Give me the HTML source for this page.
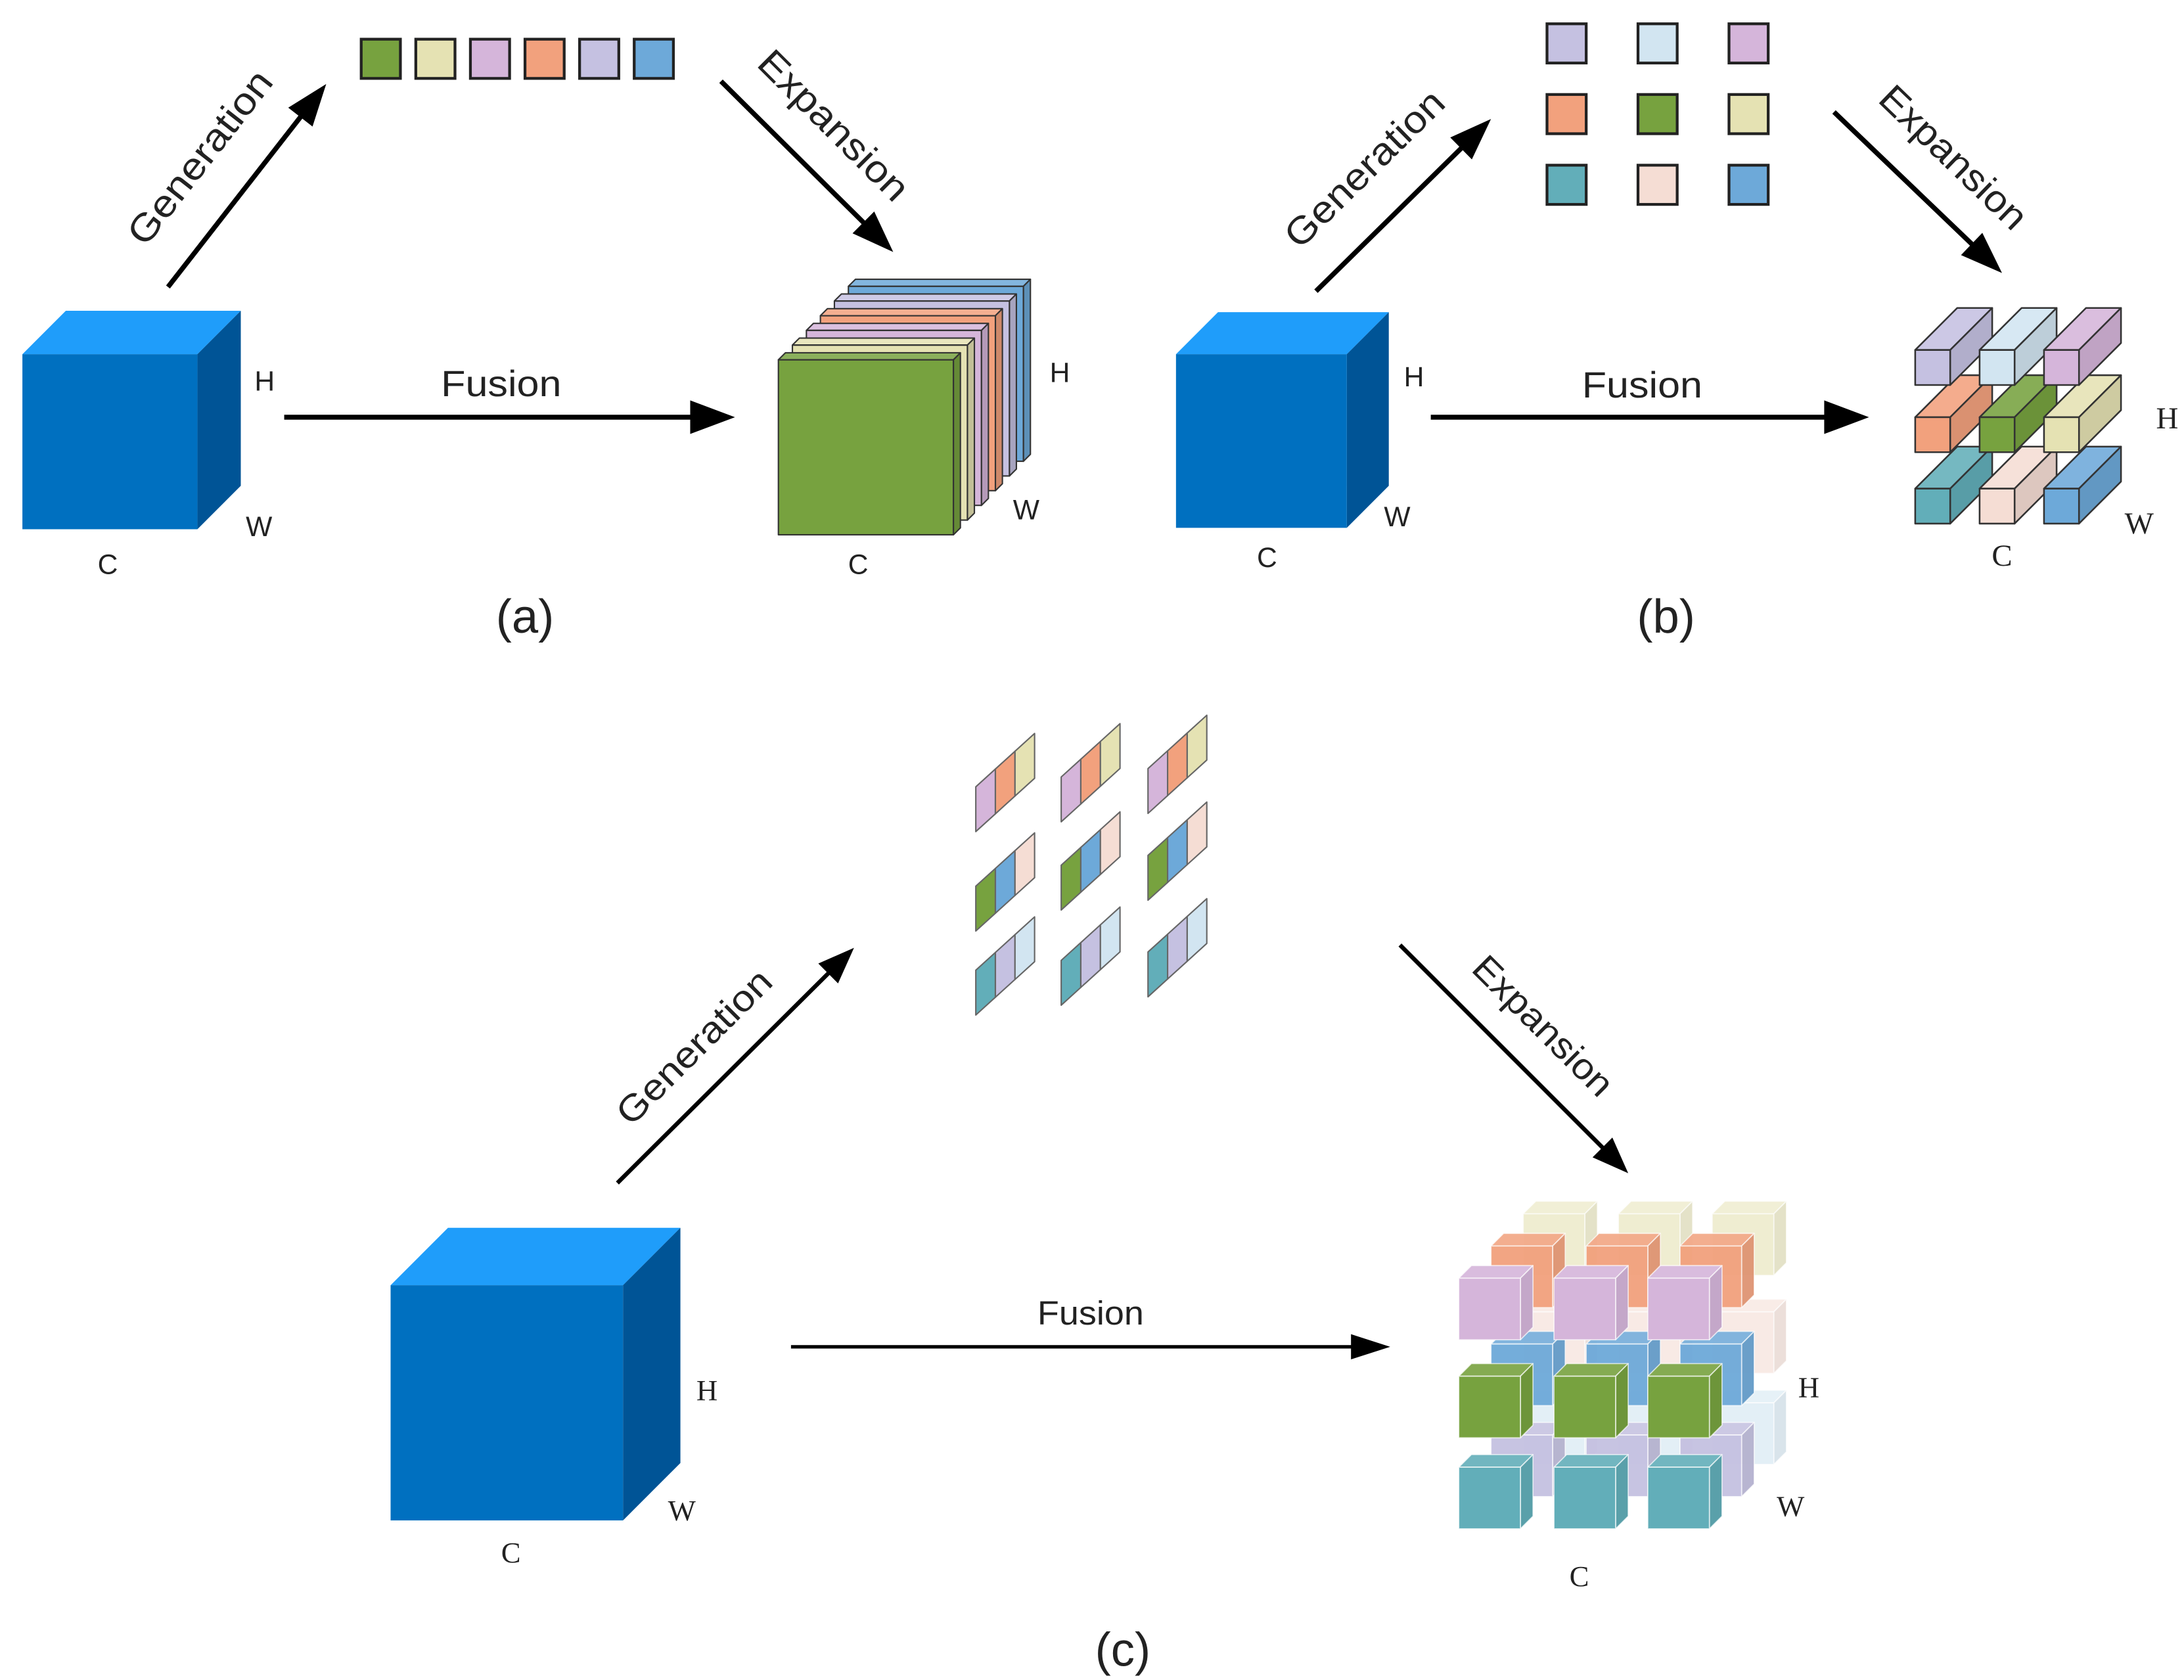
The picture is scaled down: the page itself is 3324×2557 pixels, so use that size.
<!DOCTYPE html>
<html><head><meta charset="utf-8">
<style>
html,body{margin:0;padding:0;background:#fff;}
svg{display:block;}
text{fill:#222;}
.s{font-family:"Liberation Sans",sans-serif;}
.r{font-family:"Liberation Serif",serif;}
</style></head>
<body>
<svg id="g" xmlns="http://www.w3.org/2000/svg" width="3324" height="2557" viewBox="0 0 1560 1200" preserveAspectRatio="none">
<rect width="1560" height="1200" fill="#fff"/>
<g id="shapes"></g>
<!-- Panel a labels -->
<text class="s" x="189" y="279" font-size="20" text-anchor="middle">H</text>
<text class="s" x="185" y="383" font-size="20" text-anchor="middle">W</text>
<text class="s" x="77" y="410" font-size="20" text-anchor="middle">C</text>
<text class="s" x="358" y="283" font-size="26" text-anchor="middle" textLength="86" lengthAdjust="spacingAndGlyphs">Fusion</text>
<text class="s" x="757" y="273" font-size="20" text-anchor="middle">H</text>
<text class="s" x="733" y="371" font-size="20" text-anchor="middle">W</text>
<text class="s" x="613" y="410" font-size="20" text-anchor="middle">C</text>
<text class="s" x="375" y="452" font-size="34" text-anchor="middle">(a)</text>
<text class="s" font-size="27" text-anchor="middle" textLength="150" lengthAdjust="spacingAndGlyphs" transform="translate(150,118) rotate(-52)">Generation</text>
<text class="s" font-size="27" text-anchor="middle" textLength="140" lengthAdjust="spacingAndGlyphs" transform="translate(589,96) rotate(45)">Expansion</text>
<!-- Panel b labels -->
<text class="s" x="1010" y="276" font-size="20" text-anchor="middle">H</text>
<text class="s" x="998" y="376" font-size="20" text-anchor="middle">W</text>
<text class="s" x="905" y="405" font-size="20" text-anchor="middle">C</text>
<text class="s" x="1173" y="284" font-size="26" text-anchor="middle" textLength="86" lengthAdjust="spacingAndGlyphs">Fusion</text>
<text class="r" x="1548" y="306" font-size="22" text-anchor="middle">H</text>
<text class="r" x="1528" y="381" font-size="22" text-anchor="middle">W</text>
<text class="r" x="1430" y="404" font-size="22" text-anchor="middle">C</text>
<text class="s" x="1190" y="452" font-size="34" text-anchor="middle">(b)</text>
<text class="s" font-size="27" text-anchor="middle" textLength="148" lengthAdjust="spacingAndGlyphs" transform="translate(981,127) rotate(-44.5)">Generation</text>
<text class="s" font-size="27" text-anchor="middle" textLength="135" lengthAdjust="spacingAndGlyphs" transform="translate(1389,119) rotate(44)">Expansion</text>
<!-- Panel c labels -->
<text class="r" x="505" y="1000" font-size="21" text-anchor="middle">H</text>
<text class="r" x="487" y="1086" font-size="21" text-anchor="middle">W</text>
<text class="r" x="365" y="1116" font-size="21" text-anchor="middle">C</text>
<text class="s" x="779" y="946" font-size="24" text-anchor="middle" textLength="76" lengthAdjust="spacingAndGlyphs">Fusion</text>
<text class="r" x="1292" y="998" font-size="21" text-anchor="middle">H</text>
<text class="r" x="1279" y="1083" font-size="21" text-anchor="middle">W</text>
<text class="r" x="1128" y="1133" font-size="21" text-anchor="middle">C</text>
<text class="s" x="802" y="1190" font-size="34" text-anchor="middle">(c)</text>
<text class="s" font-size="26" text-anchor="middle" textLength="145" lengthAdjust="spacingAndGlyphs" transform="translate(502,754) rotate(-45)">Generation</text>
<text class="s" font-size="26" text-anchor="middle" textLength="130" lengthAdjust="spacingAndGlyphs" transform="translate(1096,739) rotate(45)">Expansion</text>
</svg>
<script>
(function(){
var NS="http://www.w3.org/2000/svg",G=document.getElementById("shapes");
function el(t,a){var e=document.createElementNS(NS,t);for(var k in a)e.setAttribute(k,a[k]);G.appendChild(e);return e;}
function poly(pts,fill,stroke,sw,op){return el("polygon",{points:pts.map(function(p){return p[0]+","+p[1];}).join(" "),fill:fill,stroke:stroke||"none","stroke-width":sw||0,opacity:op==null?1:op,"stroke-linejoin":"round"});}
function cube(x,y,w,h,d,f,t,s,st,sw,op){
 poly([[x,y],[x+d,y-d],[x+w+d,y-d],[x+w,y]],t,st,sw,op);
 poly([[x+w,y],[x+w+d,y-d],[x+w+d,y+h-d],[x+w,y+h]],s,st,sw,op);
 poly([[x,y],[x+w,y],[x+w,y+h],[x,y+h]],f,st,sw,op);
}
function arrow(x1,y1,x2,y2,sw,hl,hw){
 var dx=x2-x1,dy=y2-y1,L=Math.sqrt(dx*dx+dy*dy),ux=dx/L,uy=dy/L,px=-uy,py=ux;
 var bx=x2-ux*hl,by=y2-uy*hl;
 el("line",{x1:x1,y1:y1,x2:bx+ux*2,y2:by+uy*2,stroke:"#000","stroke-width":sw});
 poly([[x2,y2],[bx+px*hw/2,by+py*hw/2],[bx-px*hw/2,by-py*hw/2]],"#000");
}
var C={green:"#77A23F",cream:"#E5E2B3",pink:"#D5B5DA",salmon:"#F2A17D",lav:"#C5C1E1",blue:"#6DA9D9",lblue:"#D2E5F1",teal:"#62AEB9",peach:"#F5DDD4"};
function shade(hex,f){var n=parseInt(hex.slice(1),16),r=n>>16,g=(n>>8)&255,b=n&255;
 function c(v){v=Math.round(f<1?v*f:v+(255-v)*(f-1));return Math.max(0,Math.min(255,v));}
 return "rgb("+c(r)+","+c(g)+","+c(b)+")";}
var BF="#0070C0",BT="#1F9DFA",BS="#005496";
/* panel a */
cube(16,253,125,125,31,BF,BT,BS);
arrow(120,205,233,60,3.5,30,22);
arrow(515,58,638,180,3.5,30,22);
arrow(203,298,525,298,3.5,32,24);
var sq=["green","cream","pink","salmon","lav","blue"];
for(var i=0;i<6;i++)el("rect",{x:258+39*i,y:28,width:28,height:28,fill:C[sq[i]],stroke:"#222","stroke-width":2});
var pl=["blue","lav","salmon","pink","cream","green"];
for(var i=0;i<6;i++){var k=5-i;cube(556+10*k,257-10.5*k,125,125,5,C[pl[i]],shade(C[pl[i]],1.15),shade(C[pl[i]],0.85),"#333",1);}
/* panel b */
cube(840,253,122,124,30,BF,BT,BS);
arrow(940,208,1065,85,3.5,30,22);
arrow(1310,80,1430,195,3.5,30,22);
arrow(1022,298,1335,298,3.5,32,24);
var grid=[["lav","lblue","pink"],["salmon","green","cream"],["teal","peach","blue"]];
for(var r=0;r<3;r++)for(var c=0;c<3;c++)el("rect",{x:1105+65*c,y:17+50.5*r,width:28,height:28,fill:C[grid[r][c]],stroke:"#222","stroke-width":2});
var bx=[1368,1414,1460],by=[250,298,349];
for(var r=2;r>=0;r--)for(var c=0;c<3;c++){var col=C[grid[r][c]];cube(bx[c],by[r],25,25,30,col,shade(col,1.12),shade(col,0.9),"#333",1.2);}
/* panel c */
cube(279,918,166,168,41,BF,BT,BS);
arrow(441,845,610,677,3,26,20);
arrow(1000,675,1163,838,3,26,20);
arrow(565,962,993,962,2.5,28,18);
var pg=[["pink","salmon","cream"],["green","blue","peach"],["teal","lav","lblue"]];
var gx=[697,758,820],gy=[[594,587,581],[665,650,643],[725,718,712]];
for(var r=0;r<3;r++)for(var c=0;c<3;c++)for(var s=0;s<3;s++){
 var x0=gx[c]+14*s,y0=gy[r][c]-12.7*s;
 poly([[x0,y0],[x0,y0-32],[x0+14,y0-32-12.7],[x0+14,y0-12.7]],C[pg[r][s]],"#666",1);
}
var ly=[["pink","salmon","cream"],["green","blue","peach"],["teal","lav","lblue"]];
var cx=[1042,1110,1177],cy=[913,983,1048],ops=[1,0.95,0.6];
for(var L=2;L>=0;L--)for(var r=0;r<3;r++)for(var c=0;c<3;c++){
 var col=C[ly[r][L]],x=cx[c]+23*L,y=cy[r]-23*L;
 cube(x,y,44,44,9,col,shade(col,1.1),shade(col,0.92),"rgba(255,255,255,0.7)",0.8,ops[L]);
}
})();
</script>
</body></html>
